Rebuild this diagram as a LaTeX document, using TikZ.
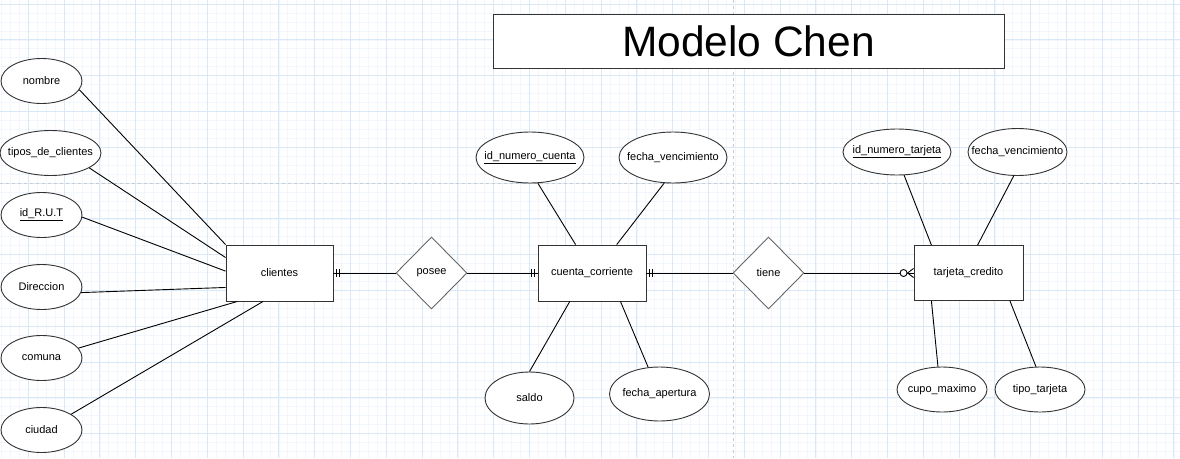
\documentclass[tikz,border=0pt]{standalone}
\usepackage{fontspec}
\setmainfont{Liberation Sans}
\usetikzlibrary{shapes.geometric}
\definecolor{gridmenor}{HTML}{F1F7FC}
\definecolor{gridmayor}{HTML}{DAE9F7}
\definecolor{borde}{HTML}{333333}
\definecolor{bordediam}{HTML}{666666}
\newcommand{\etiq}[1]{\makebox[0pt]{#1}}
\tikzset{entidad/.style = {draw=borde, fill=white, rectangle, inner sep=0, minimum width=108, minimum height=56}}
\tikzset{relacion/.style = {draw=bordediam, fill=white, diamond, inner sep=0, minimum width=71, minimum height=72}}
\tikzset{atributo/.style = {draw=borde, fill=white, ellipse, inner sep=0, minimum width=81, minimum height=45}}
\tikzset{titulo/.style = {draw=borde, fill=white, rectangle, inner sep=0, minimum width=511, minimum height=54, font=\fontsize{42.5}{48}\selectfont}}

\begin{document}
\begin{tikzpicture}[x=1pt, y=-1pt, line width=0.9pt, font=\fontsize{11}{13}\selectfont]
    \useasboundingbox [fill=white] (0, 0) rectangle (1180, 458);

    % cuadricula de fondo
    \foreach \i in {0,...,132} {
        \draw [gridmenor, line width=0.6pt] ({1.35 + 8.95*\i}, 0) -- ({1.35 + 8.95*\i}, 458);
    }
    \foreach \i in {0,...,51} {
        \draw [gridmenor, line width=0.6pt] (0, {4 + 8.95*\i}) -- (1180, {4 + 8.95*\i});
    }
    \foreach \i in {0,...,33} {
        \draw [gridmayor, line width=0.7pt] ({-7.6 + 35.8*\i}, 0) -- ({-7.6 + 35.8*\i}, 458);
    }
    \foreach \i in {0,...,12} {
        \draw [gridmayor, line width=0.7pt] (0, {4 + 35.8*\i}) -- (1180, {4 + 35.8*\i});
    }
    \draw [black!20, line width=1pt, dash pattern=on 3pt off 3pt] (733, 0) -- (733, 458);
    \draw [black!20, line width=1pt, dash pattern=on 3pt off 3pt] (0, 183) -- (1180, 183);

    \node [titulo] (titulo) at (748.5, 41) {Modelo Chen};

    % entidades y relaciones
    \node [entidad, minimum width=107] (clientes) at (279.5, 273) {clientes};
    \node [relacion] (posee) at (431.5, 273) {posee};
    \node [entidad] (cuenta) at (592, 273) {cuenta\_corriente};
    \node [relacion] (tiene) at (768.5, 273) {tiene};
    \node [entidad, minimum width=109, minimum height=55] (tarjeta) at (968.5, 273) {tarjeta\_credito};

    % atributos
    \node [atributo] (nombre) at (41.5, 81) {\etiq{nombre}};
    \node [atributo, minimum width=101] (tipos) at (50.5, 153) {\etiq{tipos\_de\_clientes}};
    \node [atributo] (rut) at (41.5, 215) {\etiq{\underline{id\_R.U.T}}};
    \node [atributo] (direccion) at (41.5, 287) {\etiq{Direccion}};
    \node [atributo] (comuna) at (41.5, 358) {\etiq{comuna}};
    \node [atributo] (ciudad) at (41.5, 430) {\etiq{ciudad}};

    \node [atributo, minimum width=108, minimum height=51] (idcuenta) at (530, 157.5) {\etiq{\underline{id\_numero\_cuenta}}};
    \node [atributo, minimum width=108, minimum height=51] (vencecuenta) at (673, 157.5) {\etiq{fecha\_vencimiento}};
    \node [atributo, minimum width=89, minimum height=52] (saldo) at (529.5, 398) {\etiq{saldo}};
    \node [atributo, minimum width=100, minimum height=54] (apertura) at (659.5, 394) {\etiq{fecha\_apertura}};

    \node [atributo, minimum width=108, minimum height=46] (idtarjeta) at (897, 152) {\etiq{\underline{id\_numero\_tarjeta}}};
    \node [atributo, minimum width=99, minimum height=47] (vencetarjeta) at (1017.5, 152) {\etiq{fecha\_vencimiento}};
    \node [atributo, minimum width=90] (cupo) at (942, 389.5) {\etiq{cupo\_maximo}};
    \node [atributo, minimum width=90] (tipotarjeta) at (1040, 389.5) {\etiq{tipo\_tarjeta}};

    % lineas de atributos
    \draw (nombre.-13) -- (clientes.north west);
    \draw (tipos.-21) -- (clientes.164);
    \draw (rut.-3) -- (clientes.178);
    \draw (direccion.-8) -- (clientes.195);
    \draw (comuna.15) -- (clientes.214);
    \draw (ciudad.28) -- (clientes.240);

    \draw (idcuenta.-73) -- (cuenta.120);
    \draw (vencecuenta.-109) -- (cuenta.49);
    \draw (saldo.north) -- (cuenta.232);
    \draw (apertura.113) -- (cuenta.-45);

    \draw (idtarjeta.-73) -- (tarjeta.143);
    \draw (vencetarjeta.-99) -- (tarjeta.72);
    \draw (cupo.100) -- (tarjeta.217);
    \draw (tipotarjeta.100) -- (tarjeta.-34);

    % relaciones con cardinalidad
    \draw (clientes.east) -- (posee.west);
    \draw (posee.east) -- (cuenta.west);
    \draw (cuenta.east) -- (tiene.west);
    \draw (tiene.east) -- (tarjeta.west);

    \foreach \d in {3, 6} {
        \draw ([xshift=\d]clientes.east) +(0, -4) -- +(0, 4);
        \draw ([xshift=-\d]cuenta.west) +(0, -4) -- +(0, 4);
        \draw ([xshift=\d]cuenta.east) +(0, -4) -- +(0, 4);
    }
    \draw ([xshift=-6]tarjeta.west) -- ([yshift=4.5]tarjeta.west);
    \draw ([xshift=-6]tarjeta.west) -- ([yshift=-4.5]tarjeta.west);
    \draw [fill=white] ([xshift=-10]tarjeta.west) circle [radius=3.5pt];
\end{tikzpicture}
\end{document}
